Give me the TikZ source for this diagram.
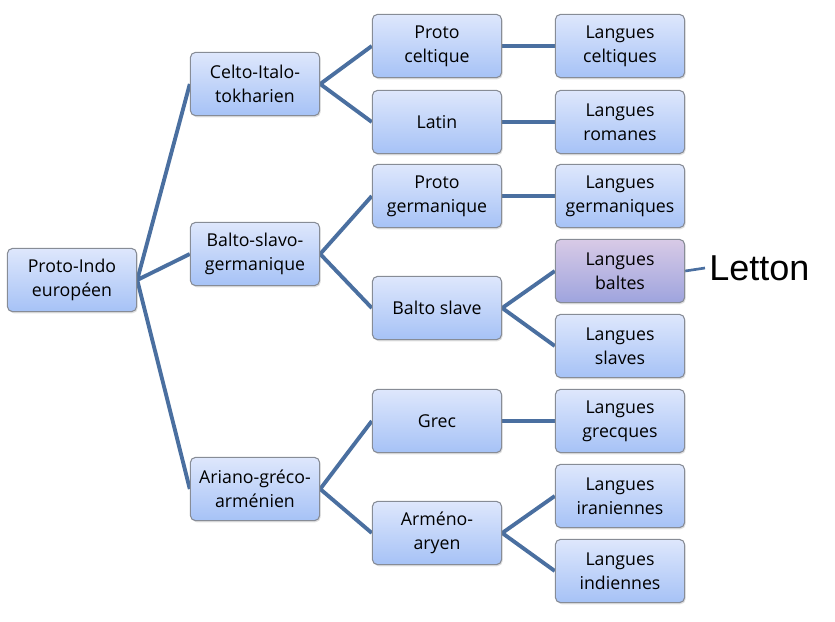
\documentclass[tikz,border=0pt]{standalone}
\usepackage{fontspec}
\setmainfont{Open Sans}
\newfontfamily\lettonfont{Liberation Sans}
\usetikzlibrary{shadows,backgrounds}
\definecolor{linkblue}{RGB}{74,111,160}
\definecolor{boxgray}{RGB}{135,140,150}
\definecolor{boxtop}{RGB}{222,231,252}
\definecolor{boxbot}{RGB}{166,194,246}
\definecolor{lilatop}{RGB}{216,202,230}
\definecolor{lilabot}{RGB}{158,164,222}
\tikzset{
  langbox/.style={draw=boxgray, line width=0.8pt, rounded corners=4pt,
    top color=boxtop, bottom color=boxbot, align=center,
    minimum width=97pt, minimum height=47.5pt, inner sep=1pt,
    font=\fontsize{13.3}{18}\selectfont,
    drop shadow={opacity=0.25, shadow xshift=0.8pt, shadow yshift=-1.2pt}},
  baltbox/.style={langbox, top color=lilatop, bottom color=lilabot},
  link/.style={draw=linkblue, line width=2.9pt}
}
\begin{document}
\begin{tikzpicture}[x=0.75pt,y=-0.75pt]
\useasboundingbox (0,0) rectangle (835,621);

  % racine
  \node (pie) at (72,280) [langbox] {Proto-Indo\\europ\'een};

  % premier niveau
  \node (cit) at (255,84) [langbox] {Celto-Italo-\\tokharien};
  \node (bsg) at (255,254) [langbox] {Balto-slavo-\\germanique};
  \node (agr) at (255,489) [langbox] {Ariano-gr\'eco-\\arm\'enien};

  % second niveau
  \node (pcel) at (437,46) [langbox] {Proto\\celtique};
  \node (lat) at (437,122) [langbox] {Latin};
  \node (pger) at (437,196) [langbox] {Proto\\germanique};
  \node (bsl) at (437,308) [langbox] {Balto slave};
  \node (grec) at (437,421) [langbox] {Grec};
  \node (armar) at (437,533) [langbox] {Arm\'eno-\\aryen};

  % langues
  \node (lcel) at (620,46) [langbox] {Langues\\celtiques};
  \node (lrom) at (620,122) [langbox] {Langues\\romanes};
  \node (lger) at (620,196) [langbox] {Langues\\germaniques};
  \node (lbal) at (620,271) [baltbox] {Langues\\baltes};
  \node (lsla) at (620,346) [langbox] {Langues\\slaves};
  \node (lgre) at (620,421) [langbox] {Langues\\grecques};
  \node (lira) at (620,496) [langbox] {Langues\\iraniennes};
  \node (lind) at (620,571) [langbox] {Langues\\indiennes};

  \node (let) at (709,268) [anchor=west, inner sep=0pt,
     font=\lettonfont\fontsize{27}{30}\selectfont] {Letton};

\begin{scope}[on background layer]
\draw[link]
   (pie.east) to (cit.west)
   (pie.east) to (bsg.west)
   (pie.east) to (agr.west);

\draw[link]
   (cit.east) to (pcel.west)
   (cit.east) to (lat.west)
   (bsg.east) to (pger.west)
   (bsg.east) to (bsl.west)
   (agr.east) to (grec.west)
   (agr.east) to (armar.west);

\draw[link]
   (pcel.east) to (lcel.west)
   (lat.east) to (lrom.west)
   (pger.east) to (lger.west)
   (bsl.east) to (lbal.west)
   (bsl.east) to (lsla.west)
   (grec.east) to (lgre.west)
   (armar.east) to (lira.west)
   (armar.east) to (lind.west);

\draw[linkblue, line width=2pt] (lbal.east) to ([xshift=-3pt]let.west);
\end{scope}
\end{tikzpicture}
\end{document}
